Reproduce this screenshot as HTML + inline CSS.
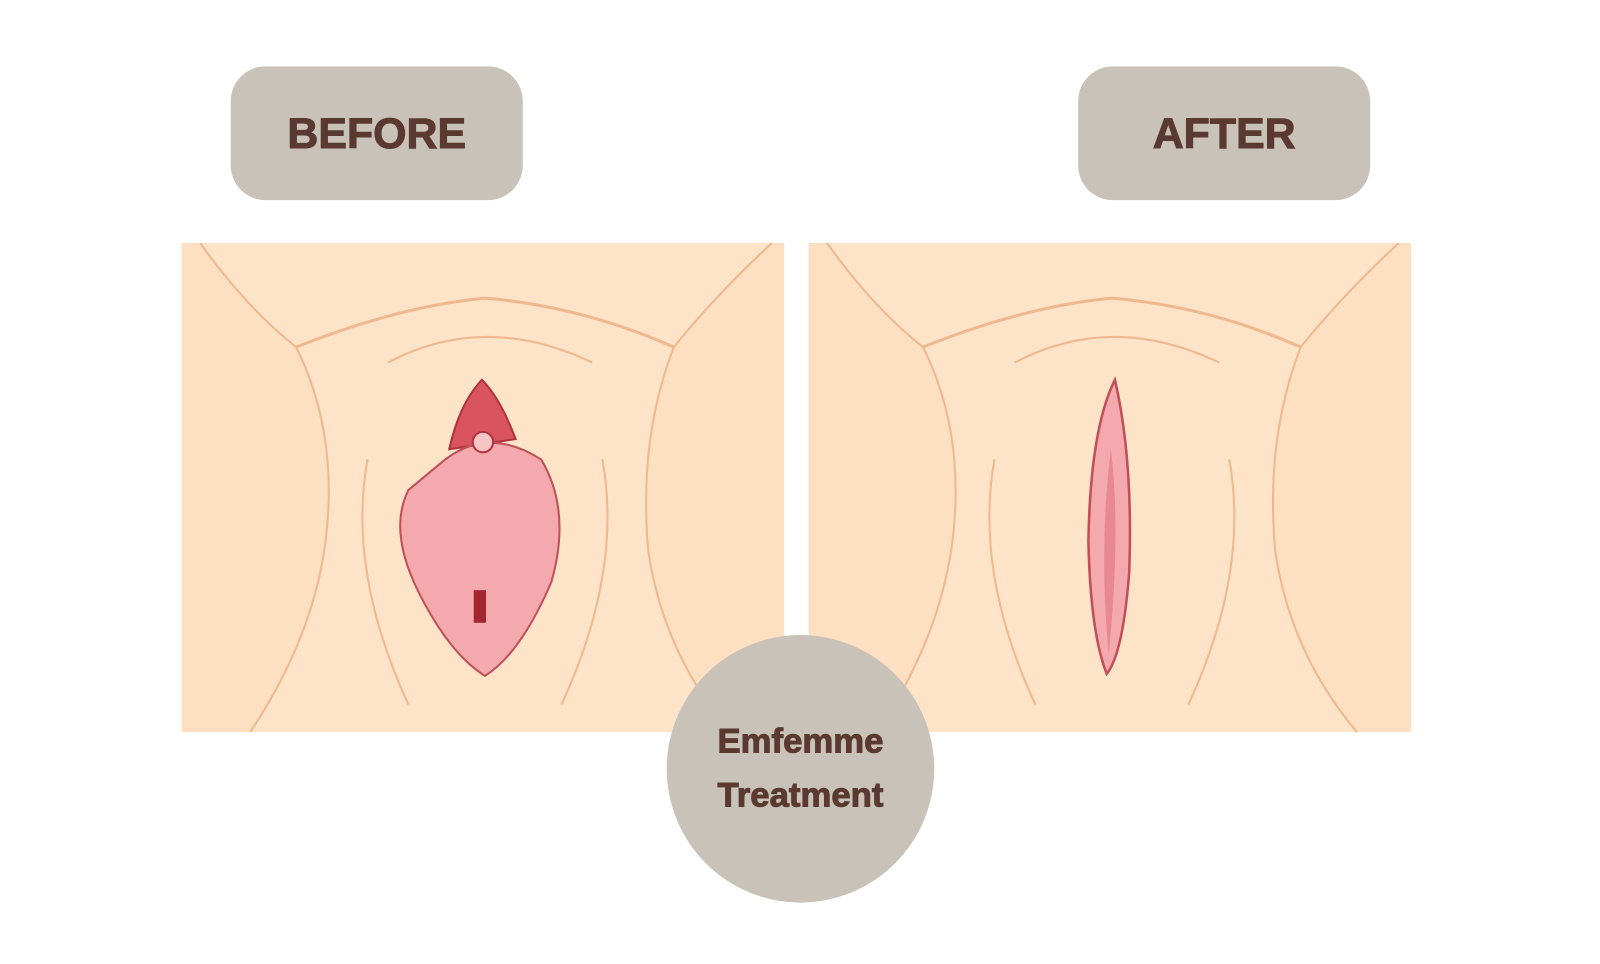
<!DOCTYPE html>
<html><head><meta charset="utf-8"><style>
html,body{margin:0;padding:0;background:#fff;}
body{width:1600px;height:964px;position:relative;overflow:hidden;font-family:"Liberation Sans",sans-serif;}
#w{position:absolute;left:0;top:0;width:1560px;height:940px;transform:scale(1.021);transform-origin:0 0;}
.lbl{position:absolute;background:#c9c2b8;color:#5a3a30;font-weight:bold;display:flex;align-items:center;justify-content:center;-webkit-text-stroke:1px #5a3a30;}
</style></head><body><div id="w">
<svg width="1560" height="940" style="position:absolute;left:0;top:0">
<g id="p">
<rect x="178" y="238" width="590" height="479" fill="#fde3c8"/>
<path d="M178 238 L196 238 Q240 300 290 340 Q330 420 320 520 Q310 620 245 717 L178 717 Z" fill="#fddfc2"/>
<path d="M196 238 Q240 300 290 340 Q330 420 320 520 Q310 620 245 717" fill="none" stroke="#f0b88e" stroke-width="2"/>
<path d="M768 238 L756 238 Q700 290 660 340 Q625 430 635 540 Q650 640 715 717 L768 717 Z" fill="#fddfc2"/>
<path d="M756 238 Q700 290 660 340 Q625 430 635 540 Q650 640 715 717" fill="none" stroke="#f0b88e" stroke-width="2"/>
<path d="M290 340 Q390 300 475 292 Q570 300 660 340" fill="none" stroke="#f0b88e" stroke-width="3"/>
<path d="M380 355 Q475 305 580 355" fill="none" stroke="#f0b88e" stroke-width="2"/>
<path d="M360 450 Q340 560 400 690 M590 450 Q610 560 550 690" fill="none" stroke="#f0b88e" stroke-width="2"/>
</g>
<path d="M472 372 Q490 390 505 430 L440 440 Q450 395 472 372Z" fill="#d9545e" stroke="#b0343e" stroke-width="2"/>
<path d="M430 455 Q475 415 530 450 Q560 500 540 570 Q510 640 475 662 Q440 640 410 580 Q380 520 400 480 Z" fill="#f4a9ae" stroke="#c0505a" stroke-width="2"/>
<circle cx="473" cy="433" r="10" fill="#f9c4c4" stroke="#b0343e" stroke-width="2"/>
<rect x="464" y="578" width="12" height="32" fill="#a3262e"/>
<use href="#p" x="614"/>
<path d="M1092 372 Q1110 450 1106 560 Q1100 640 1084 660 Q1068 620 1066 530 Q1068 420 1092 372Z" fill="#f4a9ae" stroke="#c0505a" stroke-width="2.5"/>
<path d="M1088 440 Q1098 520 1086 640 Q1076 540 1088 440Z" fill="#e88890"/>
</svg>
<div class="lbl" style="left:226px;top:65px;width:286px;height:131px;border-radius:34px;font-size:42px;">BEFORE</div>
<div class="lbl" style="left:1056px;top:65px;width:286px;height:131px;border-radius:34px;font-size:42px;">AFTER</div>
<div class="lbl" style="left:653px;top:622px;width:262px;height:262px;border-radius:50%;font-size:34px;line-height:53px;text-align:center;flex-direction:column;">Emfemme<br>Treatment</div>
</div></body></html>
